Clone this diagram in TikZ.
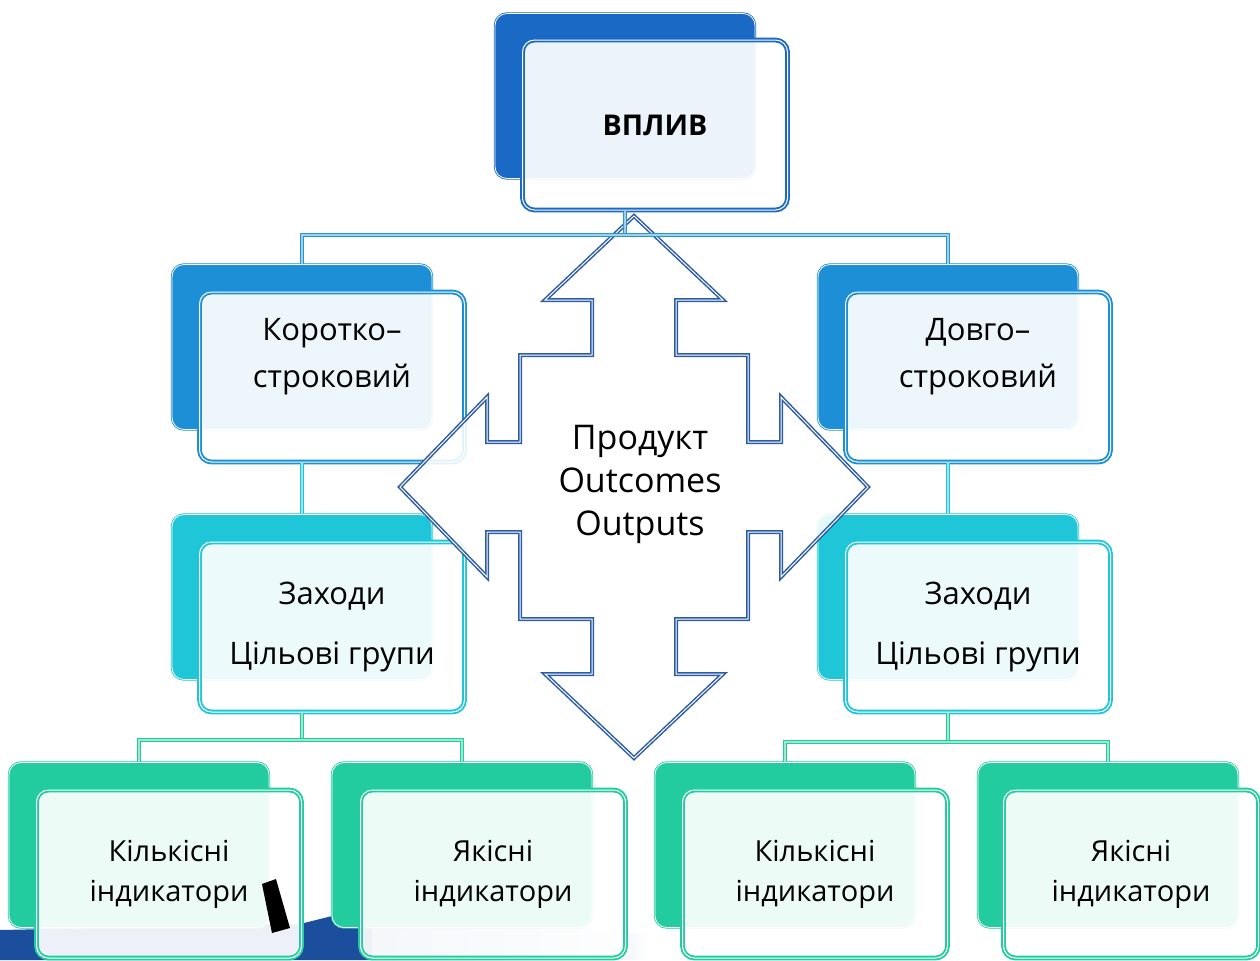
\documentclass[tikz,border=0pt]{standalone}
\usepackage{fontspec}
\setmainfont{Open Sans}
\definecolor{impactblue}{RGB}{26,105,196}
\definecolor{termblue}{RGB}{28,143,214}
\definecolor{actcyan}{RGB}{30,198,216}
\definecolor{indgreen}{RGB}{34,204,158}
\definecolor{arrowblue}{RGB}{44,92,165}
\definecolor{busblue}{RGB}{40,150,212}
\definecolor{decoblue}{RGB}{28,78,158}
\tikzset{
  backbox/.style={draw=#1, fill=#1, double=white, double distance=0.4pt,
    line width=0.4pt, rounded corners=6pt,
    minimum width=130pt, minimum height=82.5pt},
  frontbox/.style={draw=#1, double=white, double distance=0.5pt,
    line width=0.95pt, fill=white, fill opacity=0.92, text opacity=1,
    rounded corners=6pt, minimum width=132.5pt, minimum height=85pt,
    align=center, font=\fontsize{14.5pt}{20pt}\selectfont},
  link/.style={draw=#1, double=#1!45!white, double distance=0.6pt,
    line width=0.9pt},
  bigarrow/.style={draw=arrowblue, double=white, double distance=0.5pt,
    line width=0.75pt, fill=white, fill opacity=0.88}
}

\begin{document}
\begin{tikzpicture}[x=0.5pt, y=-0.5pt]
    \useasboundingbox (0,0) rectangle (1260,960);

    % slide background, bottom left
    \fill[decoblue] (0,930) -- (300,924) -- (372,906) -- (372,960) -- (0,960) -- cycle;
    \shade[left color=decoblue!55, right color=white] (372,906) -- (650,935)
        -- (650,960) -- (372,960) -- cycle;

    % back boxes
    \node[backbox=impactblue] (vplyvB) at (625,96) {};
    \node[backbox=termblue] (shortB) at (302,347) {};
    \node[backbox=termblue] (longB) at (948,347) {};
    \node[backbox=actcyan] (actsLB) at (302,597) {};
    \node[backbox=actcyan] (actsRB) at (948,597) {};
    \node[backbox=indgreen] (qtyLB) at (139,845) {};
    \node[backbox=indgreen] (qualLB) at (462,845) {};
    \node[backbox=indgreen] (qtyRB) at (785,845) {};
    \node[backbox=indgreen] (qualRB) at (1108,845) {};

    % front boxes
    \node[frontbox=impactblue, font=\bfseries\fontsize{14.3pt}{20pt}\selectfont]
        (vplyv) at (655,125) {ВПЛИВ};
    \node[frontbox=termblue,
        label={[align=center, yshift=10pt, font=\fontsize{15.5pt}{23.5pt}\selectfont]center:{Коротко–\\строковий}}]
        (short) at (332,377) {};
    \node[frontbox=termblue,
        label={[align=center, yshift=10pt, font=\fontsize{15.5pt}{23.5pt}\selectfont]center:{Довго–\\строковий}}]
        (long) at (978,377) {};
    \node[frontbox=actcyan, font=\fontsize{15.5pt}{30pt}\selectfont]
        (actsL) at (332,627) {Заходи\\Цільові групи};
    \node[frontbox=actcyan, font=\fontsize{15.5pt}{30pt}\selectfont]
        (actsR) at (978,627) {Заходи\\Цільові групи};
    \node[frontbox=indgreen, minimum height=84pt] (qtyL) at (169,874) {Кількісні\\індикатори};
    \node[frontbox=indgreen, minimum height=84pt] (qualL) at (493,874) {Якісні\\індикатори};
    \node[frontbox=indgreen, minimum height=84pt] (qtyR) at (815,874) {Кількісні\\індикатори};
    \node[frontbox=indgreen, minimum height=84pt, minimum width=127.5pt]
        (qualR) at (1131,874) {Якісні\\індикатори};
    \fill[black] (262,884) -- (276,879) -- (290,928) -- (272,933) -- cycle;

    % four-way arrow
    \draw[bigarrow] (634,216) -- (723,300) -- (676,300) -- (676,355) -- (748,355)
        -- (748,442) -- (781,442) -- (781,397) -- (868,487) -- (781,577)
        -- (781,532) -- (748,532) -- (748,619) -- (676,619) -- (676,674)
        -- (723,674) -- (634,758) -- (545,674) -- (592,674) -- (592,619)
        -- (520,619) -- (520,532) -- (487,532) -- (487,577) -- (400,487)
        -- (487,397) -- (487,442) -- (520,442) -- (520,355) -- (592,355)
        -- (592,300) -- (545,300) -- cycle;
    \node[align=center, font=\fontsize{17pt}{21.5pt}\selectfont]
        (prod) at (640,484) {Продукт\\Outcomes\\Outputs};

    % connectors
    \coordinate (bus) at (625,235);
    \draw[link=busblue] (vplyv.south -| vplyvB.south) -- (bus);
    \draw[link=busblue] (shortB.north) |- (bus) -| (longB.north);
    \draw[link=actcyan] (short.south -| shortB.south) -- (actsLB.north);
    \draw[link=actcyan] (long.south -| longB.south) -- (actsRB.north);

    \coordinate (forkL) at (302,740);
    \coordinate (forkR) at (948,742);
    \draw[link=indgreen] (actsL.south -| actsLB.south) -- (forkL);
    \draw[link=indgreen] (qtyLB.north) |- (forkL) -| (qualLB.north);
    \draw[link=indgreen] (actsR.south -| actsRB.south) -- (forkR);
    \draw[link=indgreen] (qtyRB.north) |- (forkR) -| (qualRB.north);
\end{tikzpicture}
\end{document}
